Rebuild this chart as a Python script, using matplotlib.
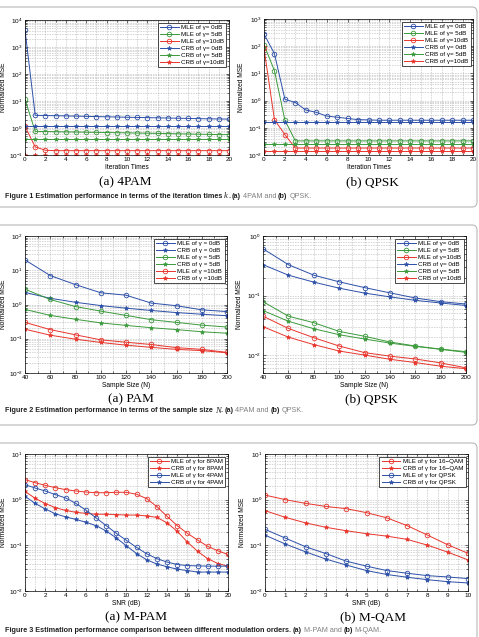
import numpy as np
import matplotlib.pyplot as plt
from matplotlib.patches import FancyBboxPatch
from matplotlib.ticker import MultipleLocator
from matplotlib.transforms import IdentityTransform

plt.rcParams['font.family'] = ['Liberation Sans', 'DejaVu Sans']
plt.rcParams['mathtext.fontset'] = 'custom'
plt.rcParams['mathtext.rm'] = 'Liberation Sans'

# ---- Figure 1: iteration times k ----
iter_k = np.arange(21)
pam4_mle_0 = [4300, 2.95, 2.9, 2.85, 2.8, 2.75, 2.7, 2.65, 2.6, 2.55, 2.5,
              2.46, 2.42, 2.38, 2.34, 2.3, 2.26, 2.22, 2.19, 2.16, 2.14]
pam4_mle_5 = [11.5, 0.75, 0.74, 0.73, 0.72, 0.71, 0.70, 0.69, 0.68, 0.67, 0.66,
              0.65, 0.64, 0.63, 0.62, 0.61, 0.60, 0.59, 0.58, 0.57, 0.57]
pam4_mle_10 = [1.15, 0.20, 0.15, 0.145, 0.145, 0.145, 0.145, 0.145, 0.145, 0.145, 0.145,
               0.145, 0.145, 0.145, 0.145, 0.145, 0.145, 0.145, 0.145, 0.145, 0.145]
pam4_crb_0 = [1.2, 1.2, 1.2, 1.2, 1.2, 1.2, 1.2, 1.2, 1.2, 1.2, 1.2,
              1.2, 1.2, 1.2, 1.2, 1.2, 1.2, 1.2, 1.2, 1.2, 1.2]
pam4_crb_5 = [0.38, 0.38, 0.38, 0.38, 0.38, 0.38, 0.38, 0.38, 0.38, 0.38, 0.38,
              0.38, 0.38, 0.38, 0.38, 0.38, 0.38, 0.38, 0.38, 0.38, 0.38]
pam4_crb_10 = [0.103, 0.103, 0.103, 0.103, 0.103, 0.103, 0.103, 0.103, 0.103, 0.103, 0.103,
               0.103, 0.103, 0.103, 0.103, 0.103, 0.103, 0.103, 0.103, 0.103, 0.103]

qpsk_mle_0 = [280, 53, 1.12, 0.85, 0.45, 0.37, 0.27, 0.245, 0.22, 0.2, 0.195,
              0.19, 0.19, 0.19, 0.19, 0.19, 0.19, 0.19, 0.19, 0.19, 0.19]
qpsk_mle_5 = [115, 12.5, 0.19, 0.033, 0.033, 0.033, 0.033, 0.033, 0.033, 0.033, 0.033,
              0.033, 0.033, 0.033, 0.033, 0.033, 0.033, 0.033, 0.033, 0.033, 0.033]
qpsk_mle_10 = [83, 0.2, 0.056, 0.018, 0.018, 0.018, 0.018, 0.018, 0.018, 0.018, 0.018,
               0.018, 0.018, 0.018, 0.018, 0.018, 0.018, 0.018, 0.018, 0.018, 0.018]
qpsk_crb_0 = [0.16, 0.16, 0.16, 0.16, 0.16, 0.16, 0.16, 0.16, 0.16, 0.16, 0.16,
              0.16, 0.16, 0.16, 0.16, 0.16, 0.16, 0.16, 0.16, 0.16, 0.16]
qpsk_crb_5 = [0.026, 0.026, 0.026, 0.026, 0.026, 0.026, 0.026, 0.026, 0.026, 0.026, 0.026,
              0.026, 0.026, 0.026, 0.026, 0.026, 0.026, 0.026, 0.026, 0.026, 0.026]
qpsk_crb_10 = [0.0145, 0.0145, 0.0145, 0.0145, 0.0145, 0.0145, 0.0145, 0.0145, 0.0145, 0.0145, 0.0145,
               0.0145, 0.0145, 0.0145, 0.0145, 0.0145, 0.0145, 0.0145, 0.0145, 0.0145, 0.0145]

# ---- Figure 2: sample size N ----
sample_n = [40, 60, 80, 100, 120, 140, 160, 180, 200]
pam_mle_0 = [20, 7.0, 3.8, 2.2, 1.87, 1.1, 0.92, 0.70, 0.62]
pam_crb_0 = [2.25, 1.52, 1.16, 0.93, 0.78, 0.67, 0.58, 0.52, 0.47]
pam_mle_5 = [2.8, 1.4, 0.87, 0.64, 0.48, 0.36, 0.30, 0.25, 0.22]
pam_crb_5 = [0.72, 0.48, 0.37, 0.29, 0.245, 0.21, 0.185, 0.16, 0.145]
pam_mle_10 = [0.30, 0.185, 0.13, 0.093, 0.079, 0.068, 0.055, 0.049, 0.040]
pam_crb_10 = [0.19, 0.127, 0.097, 0.078, 0.065, 0.056, 0.049, 0.045, 0.039]

qpskn_mle_0 = [0.61, 0.33, 0.22, 0.17, 0.136, 0.111, 0.091, 0.079, 0.072]
qpskn_mle_5 = [0.079, 0.045, 0.035, 0.025, 0.0207, 0.0166, 0.0142, 0.0126, 0.0114]
qpskn_mle_10 = [0.045, 0.028, 0.0196, 0.0142, 0.011, 0.0096, 0.0086, 0.0074, 0.0061]
qpskn_crb_0 = [0.33, 0.22, 0.168, 0.133, 0.11, 0.095, 0.083, 0.075, 0.068]
qpskn_crb_5 = [0.056, 0.037, 0.0277, 0.022, 0.0186, 0.0159, 0.0140, 0.0125, 0.0111]
qpskn_crb_10 = [0.030, 0.020, 0.015, 0.0117, 0.010, 0.0085, 0.0075, 0.0065, 0.0059]

# ---- Figure 3: modulation orders ----
snr_pam = np.arange(21)
mle_8pam = [2.74, 2.35, 2.06, 1.83, 1.66, 1.55, 1.47, 1.42, 1.42, 1.45, 1.45,
            1.31, 1.05, 0.70, 0.43, 0.27, 0.183, 0.131, 0.095, 0.076, 0.063]
crb_8pam = [1.52, 1.07, 0.82, 0.67, 0.58, 0.53, 0.50, 0.48, 0.48, 0.47, 0.46,
            0.46, 0.44, 0.41, 0.31, 0.203, 0.118, 0.074, 0.051, 0.040, 0.035]
mle_4pam = [2.13, 1.80, 1.55, 1.29, 1.09, 0.83, 0.59, 0.40, 0.27, 0.183, 0.128,
            0.090, 0.065, 0.051, 0.043, 0.038, 0.036, 0.0355, 0.035, 0.035, 0.035]
crb_4pam = [1.18, 0.83, 0.625, 0.49, 0.42, 0.37, 0.32, 0.27, 0.206, 0.145, 0.097,
            0.066, 0.048, 0.039, 0.034, 0.030, 0.028, 0.026, 0.026, 0.026, 0.026]

snr_qam = np.arange(11)
mle_16qam = [1.26, 1.0, 0.83, 0.71, 0.635, 0.52, 0.40, 0.27, 0.168, 0.103, 0.067]
crb_16qam = [0.575, 0.41, 0.31, 0.248, 0.209, 0.18, 0.159, 0.135, 0.101, 0.071, 0.048]
mle_qpsk = [0.224, 0.144, 0.093, 0.066, 0.045, 0.035, 0.028, 0.0245, 0.0217, 0.0203, 0.0187]
crb_qpsk = [0.167, 0.107, 0.072, 0.050, 0.037, 0.028, 0.023, 0.020, 0.0177, 0.016, 0.015]

BLUE = '#2c4fa8'
GREEN = '#3c9a3c'
RED = '#e8352c'

W, H = 479, 637
fig = plt.figure(figsize=(W / 100, H / 100), dpi=100)


def px_axes(x0, y0, x1, y1):
    # image pixel coords (top-left origin) -> figure axes
    return fig.add_axes([x0 / W, 1 - y1 / H, (x1 - x0) / W, (y1 - y0) / H])


def mle(ax, x, y, c, label):
    ax.plot(x, y, '-o', color=c, lw=0.7, ms=3.3, mfc='none', mew=0.6, label=label)


def crb(ax, x, y, c, label):
    ax.plot(x, y, '-*', color=c, lw=0.7, ms=3.2, mew=0.5, label=label)


def style(ax, xlim, xstep, xminor, ylim, xlabel, ylab_x):
    ax.set_yscale('log')
    ax.set_xlim(*xlim)
    ax.set_ylim(*ylim)
    ax.xaxis.set_major_locator(MultipleLocator(xstep))
    ax.xaxis.set_minor_locator(MultipleLocator(xminor))
    ax.tick_params(which='both', direction='in', top=True, right=True,
                   labelsize=4.6, width=0.4, pad=1.5)
    ax.tick_params(which='major', length=2.5)
    ax.tick_params(which='minor', length=1.3)
    ax.grid(True, which='both', linestyle=':', linewidth=0.45, color='#9a9a9a')
    for s in ax.spines.values():
        s.set_linewidth(0.5)
    ax.set_xlabel(xlabel, fontsize=4.8, labelpad=1.2)
    ax.set_ylabel('Normalized MSE', fontsize=4.8)
    # place the y label at a fixed pixel column
    bb = ax.get_position()
    ax.yaxis.set_label_coords((ylab_x / W - bb.x0) / bb.width, 0.5)


def legend(ax):
    lg = ax.legend(loc='upper right', fontsize=4.5, handlelength=3.0,
                   labelspacing=0.25, borderpad=0.35, handletextpad=0.4,
                   borderaxespad=0.4, fancybox=False, framealpha=1)
    lg.get_frame().set_edgecolor('black')
    lg.get_frame().set_linewidth(0.5)


def subcap(xc, yc, s):
    fig.text(xc / W, 1 - yc / H, s, ha='center', va='center',
             family='Liberation Serif', fontsize=9.5)


def rich_caption(x, y, parts, size=5.2):
    renderer = fig.canvas.get_renderer()
    xp = x
    for s, kind in parts:
        if kind == 'gap':
            xp += s
            continue
        kw = dict(fontsize=size, va='center', ha='left')
        if kind == 'b':
            kw.update(weight='bold', color='#222222')
        elif kind == 'i':
            kw.update(style='italic', family='Liberation Serif', color='#222222', fontsize=size + 1)
        else:
            kw.update(color='#808080')
        t = fig.text(xp / W, 1 - y / H, s, **kw)
        xp += t.get_window_extent(renderer).width


# gray rounded frames around each figure
for top, bot in [(7, 207), (225, 425), (443, 700)]:
    box = FancyBboxPatch((-10, H - bot), 487, bot - top,
                         boxstyle='round,pad=0,rounding_size=5',
                         transform=IdentityTransform(), fill=False,
                         edgecolor='#b8b8b8', linewidth=0.8)
    fig.add_artist(box)

GAP = 1.8

# ---- Figure 1 ----
ax = px_axes(25, 20, 229, 155)
mle(ax, iter_k, pam4_mle_0, BLUE, 'MLE of γ= 0dB')
mle(ax, iter_k, pam4_mle_5, GREEN, 'MLE of γ= 5dB')
mle(ax, iter_k, pam4_mle_10, RED, 'MLE of γ=10dB')
crb(ax, iter_k, pam4_crb_0, BLUE, 'CRB of γ= 0dB')
crb(ax, iter_k, pam4_crb_5, GREEN, 'CRB of γ= 5dB')
crb(ax, iter_k, pam4_crb_10, RED, 'CRB of γ=10dB')
style(ax, (0, 20), 2, 1, (1e-1, 1e4), 'Iteration Times', 7)
legend(ax)

ax = px_axes(264, 19, 473, 155)
mle(ax, iter_k, qpsk_mle_0, BLUE, 'MLE of γ= 0dB')
mle(ax, iter_k, qpsk_mle_5, GREEN, 'MLE of γ= 5dB')
mle(ax, iter_k, qpsk_mle_10, RED, 'MLE of γ=10dB')
crb(ax, iter_k, qpsk_crb_0, BLUE, 'CRB of γ= 0dB')
crb(ax, iter_k, qpsk_crb_5, GREEN, 'CRB of γ= 5dB')
crb(ax, iter_k, qpsk_crb_10, RED, 'CRB of γ=10dB')
style(ax, (0, 20), 2, 1, (1e-2, 1e3), 'Iteration Times', 245)
legend(ax)

subcap(125, 182, '(a) 4PAM')
subcap(372, 182, '(b) QPSK')
rich_caption(5, 196, [('Figure 1 Estimation performance in terms of the iteration times', 'b'),
                      (GAP, 'gap'), ('k', 'i'), ('.', 'b'), (GAP, 'gap'), ('(a)', 'b'),
                      (GAP, 'gap'), ('4PAM and', 'n'), (GAP, 'gap'), ('(b)', 'b'),
                      (GAP, 'gap'), ('QPSK.', 'n')])

# ---- Figure 2 ----
ax = px_axes(25, 236, 227, 373)
mle(ax, sample_n, pam_mle_0, BLUE, 'MLE of γ = 0dB')
crb(ax, sample_n, pam_crb_0, BLUE, 'CRB of γ = 0dB')
mle(ax, sample_n, pam_mle_5, GREEN, 'MLE of γ = 5dB')
crb(ax, sample_n, pam_crb_5, GREEN, 'CRB of γ = 5dB')
mle(ax, sample_n, pam_mle_10, RED, 'MLE of γ =10dB')
crb(ax, sample_n, pam_crb_10, RED, 'CRB of γ =10dB')
style(ax, (40, 200), 20, 10, (1e-2, 1e2), 'Sample Size (N)', 7)
legend(ax)

ax = px_axes(263, 236, 466, 373)
mle(ax, sample_n, qpskn_mle_0, BLUE, 'MLE of γ= 0dB')
mle(ax, sample_n, qpskn_mle_5, GREEN, 'MLE of γ= 5dB')
mle(ax, sample_n, qpskn_mle_10, RED, 'MLE of γ=10dB')
crb(ax, sample_n, qpskn_crb_0, BLUE, 'CRB of γ= 0dB')
crb(ax, sample_n, qpskn_crb_5, GREEN, 'CRB of γ= 5dB')
crb(ax, sample_n, qpskn_crb_10, RED, 'CRB of γ=10dB')
style(ax, (40, 200), 20, 10, (5e-3, 1e0), 'Sample Size (N)', 243)
legend(ax)

subcap(131, 399, '(a) PAM')
subcap(371, 399, '(b) QPSK')
rich_caption(5, 411, [('Figure 2 Estimation performance in terms of the sample size', 'b'),
                      (GAP, 'gap'), ('N', 'i'), ('.', 'b'), (GAP, 'gap'), ('(a)', 'b'),
                      (GAP, 'gap'), ('4PAM and', 'n'), (GAP, 'gap'), ('(b)', 'b'),
                      (GAP, 'gap'), ('QPSK.', 'n')])

# ---- Figure 3 ----
ax = px_axes(25, 454, 228, 591)
mle(ax, snr_pam, mle_8pam, RED, 'MLE of γ for 8PAM')
crb(ax, snr_pam, crb_8pam, RED, 'CRB of γ for 8PAM')
mle(ax, snr_pam, mle_4pam, BLUE, 'MLE of γ for 4PAM')
crb(ax, snr_pam, crb_4pam, BLUE, 'CRB of γ for 4PAM')
style(ax, (0, 20), 2, 1, (1e-2, 1e1), 'SNR (dB)', 7)
legend(ax)

ax = px_axes(265, 454, 468, 591)
mle(ax, snr_qam, mle_16qam, RED, 'MLE of γ for 16−QAM')
crb(ax, snr_qam, crb_16qam, RED, 'CRB of γ for 16−QAM')
mle(ax, snr_qam, mle_qpsk, BLUE, 'MLE of γ for QPSK')
crb(ax, snr_qam, crb_qpsk, BLUE, 'CRB of γ for QPSK')
style(ax, (0, 10), 1, 0.5, (1e-2, 1e1), 'SNR (dB)', 246)
legend(ax)

subcap(136, 617, '(a) M-PAM')
subcap(373, 617, '(b) M-QAM')
rich_caption(5, 631, [('Figure 3 Estimation performance comparison between different modulation orders.', 'b'),
                      (GAP, 'gap'), ('(a)', 'b'), (GAP, 'gap'), ('M-PAM and', 'n'),
                      (GAP, 'gap'), ('(b)', 'b'), (GAP, 'gap'), ('M-QAM.', 'n')])

fig.savefig('out.png', dpi=100)
